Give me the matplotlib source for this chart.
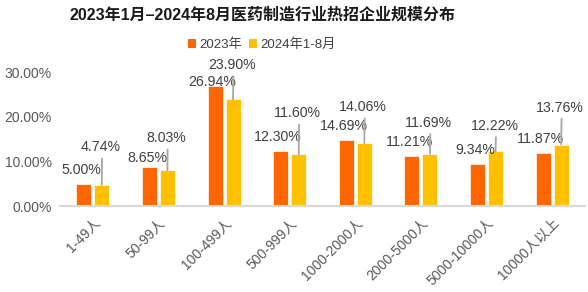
import matplotlib
matplotlib.use("Agg")
import matplotlib.pyplot as plt
import numpy as np
from matplotlib.patches import Patch

plt.rcParams['font.family'] = ['Liberation Sans', 'Noto Sans CJK SC', 'DejaVu Sans']

categories = ["1-49人", "50-99人", "100-499人", "500-999人", "1000-2000人",
              "2000-5000人", "5000-10000人", "10000人以上"]
series_names = ["2023年", "2024年1-8月"]
values_2023 = [5.00, 8.65, 26.94, 12.30, 14.69, 11.21, 9.34, 11.87]
values_2024 = [4.74, 8.03, 23.90, 11.60, 14.06, 11.69, 12.22, 13.76]
yticks = [0, 10, 20, 30]
title = "2023年1月–2024年8月医药制造行业热招企业规模分布"

# label placement (pixels above bar top) - styling only
off_2023_px = [14, 9, 3.6, 14, 14, 14, 14, 14]
off_2024_px = [37.5, 31.8, 34, 40.8, 36, 31, 25.4, 37]

c1 = "#FF6600"
c2 = "#FFC000"
txt = "#404040"

fig = plt.figure(figsize=(5.88, 2.92), dpi=100)
ax = fig.add_axes([60/588, 1-206/292, 525/588, (206-72)/292])

x = np.arange(len(categories))
w = 0.23
d = 0.137
ax.bar(x - d, values_2023, w, color=c1, edgecolor="white", linewidth=0.5, zorder=2)
ax.bar(x + d, values_2024, w, color=c2, edgecolor="white", linewidth=0.5, zorder=2)

ax.set_xlim(-0.5, len(categories) - 0.5)
ax.set_ylim(0, 30)
ax.set_yticks(yticks)
ax.set_yticklabels([f"{v:.2f}%" for v in yticks])
ax.set_xticks(x)
ax.set_xticklabels(categories, rotation=45, ha="right", rotation_mode="anchor")

for s in ["top", "right", "left"]:
    ax.spines[s].set_visible(False)
ax.spines["bottom"].set_color("#D9D9D9")
ax.spines["bottom"].set_linewidth(1.5)
ax.tick_params(axis="both", length=0, labelsize=10, colors="#595959")
ax.tick_params(axis="y", pad=6)
ax.tick_params(axis="x", pad=7)

pt = 72 / 100.0
fs = 10.2
for i, v in enumerate(values_2023):
    ax.annotate(f"{v:.2f}%", xy=(x[i] - d, v), xytext=(-2.5 * pt, off_2023_px[i] * pt),
                textcoords="offset points", ha="center", va="center",
                fontsize=fs, color=txt, clip_on=False, zorder=3)
for i, v in enumerate(values_2024):
    ax.annotate(f"{v:.2f}%", xy=(x[i] + d, v), xytext=(-1 * pt, off_2024_px[i] * pt),
                textcoords="offset points", ha="center", va="center",
                fontsize=fs, color=txt, clip_on=False, zorder=3,
                arrowprops=dict(arrowstyle="-", color="#A6A6A6", lw=1.3,
                                relpos=(0.53, 0.0), shrinkA=1, shrinkB=0))

fig.text(262/588, 1-15/292, title, ha="center", va="center",
         fontsize=11.5, fontweight="bold", color="#1a1a1a")

handles = [Patch(facecolor=c1), Patch(facecolor=c2)]
fig.legend(handles, series_names, loc="center", bbox_to_anchor=(262/588, 1-45/292),
           ncol=2, frameon=False, fontsize=9.5, handlelength=0.6, handleheight=0.6,
           handletextpad=0.25, columnspacing=0.5, labelcolor="#404040")

fig.savefig("out.png", dpi=100)
